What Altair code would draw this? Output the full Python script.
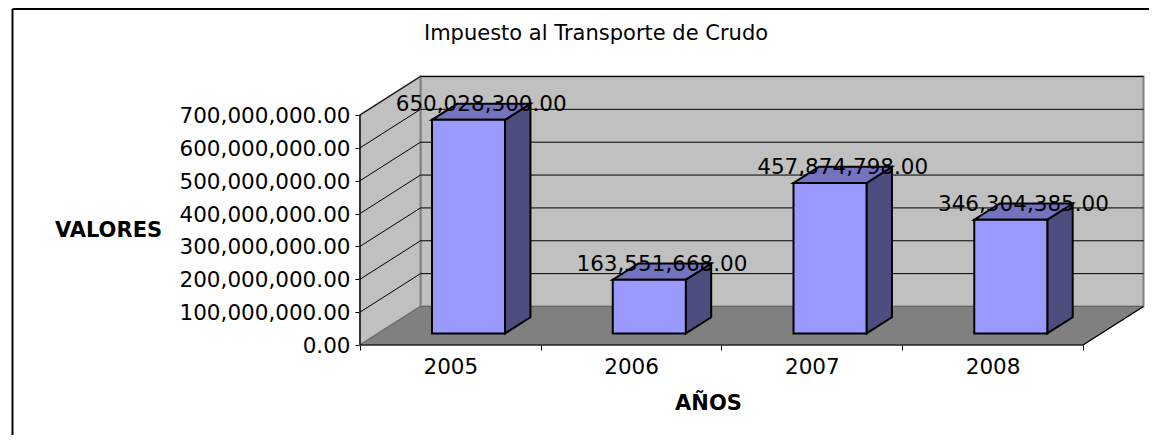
import altair as alt
import pandas as pd

years = ["2005", "2006", "2007", "2008"]
values = [650028300.0, 163551668.0, 457874798.0, 346304385.0]
y_ticks = [0, 100e6, 200e6, 300e6, 400e6, 500e6, 600e6, 700e6]
title_text = "Impuesto al Transporte de Crudo"

FONT = "DejaVu Sans"
V_MAX = 700e6
DEPTH_X = 0.3347      # category units covered by the full floor depth
DEPTH_Y = 117.2e6     # value units covered by the full floor depth
BAR_W = 0.404
BAR_D0, BAR_D1 = 0.30, 0.72
X_END = 4.3375
Y_END = 821.7e6
n = len(years)


def px(cat, depth):
    return cat + depth * DEPTH_X


def py(val, depth):
    return val + depth * DEPTH_Y


xs = alt.Scale(domain=[0, X_END], nice=False, zero=False)
ys = alt.Scale(domain=[0, Y_END], nice=False, zero=False)
X = alt.X("x:Q", scale=xs, axis=None)
Y = alt.Y("y:Q", scale=ys, stack=None, axis=alt.Axis(
    values=y_ticks, format=",.2f", domain=False, tickSize=5, tickColor="black", grid=False,
    labelFont=FONT, labelFontSize=21.5, labelColor="black", labelPadding=5, labelOffset=1.5,
    title="VALORES", titleAngle=0, titleFont=FONT, titleFontSize=21, titleFontWeight="bold",
    titleColor="black", titleX=-252, titleY=155, titleAlign="center", titleBaseline="middle"))
Y2 = alt.Y2("y2:Q")
X2 = alt.X2("x2:Q")

# back wall
back = alt.Chart(pd.DataFrame({"x": [px(0, 1), px(n, 1)], "y": [py(0, 1)] * 2, "y2": [py(V_MAX, 1)] * 2})).mark_area(
    orient="vertical", fill="#C0C0C0", stroke="#808080", strokeWidth=2
).encode(x=X, y=Y, y2=Y2)

# side wall
side = alt.Chart(pd.DataFrame({"x": [px(0, 0), px(0, 1)], "y": [py(0, 0), py(0, 1)], "y2": [py(V_MAX, 0), py(V_MAX, 1)]})).mark_area(
    orient="vertical", fill="#C0C0C0", stroke="#808080", strokeWidth=2
).encode(x=X, y=Y, y2=Y2)

# floor
floor = alt.Chart(pd.DataFrame({"y": [py(0, 0), py(0, 1)], "x": [px(0, 0), px(0, 1)], "x2": [px(n, 0), px(n, 1)]})).mark_area(
    orient="horizontal", fill="#808080", stroke="#666666", strokeWidth=1
).encode(
    y=Y, x=alt.X("x:Q", scale=xs, axis=alt.Axis(
        orient="bottom", values=list(range(n + 1)), labels=False, tickSize=5, tickColor="black", domain=False, title=None, grid=False)),
    x2=X2,
)

# grid lines
grid_rows = []
for v in y_ticks[1:]:
    grid_rows.append({"x": px(0, 0), "x2": px(0, 1), "y": py(v, 0), "y2": py(v, 1)})
    grid_rows.append({"x": px(0, 1), "x2": px(n, 1), "y": py(v, 1), "y2": py(v, 1)})
grid = alt.Chart(pd.DataFrame(grid_rows)).mark_rule(color="#000000", strokeWidth=1).encode(x=X, x2=X2, y=Y, y2=Y2)

# front axis lines and floor's right edge
edge_rows = [
    {"x": 0, "x2": n, "y": 0, "y2": 0},
    {"x": n, "x2": px(n, 1), "y": py(0, 0), "y2": py(0, 1)},
    {"x": 0, "x2": 0, "y": 0, "y2": V_MAX},
]
edges = alt.Chart(pd.DataFrame(edge_rows)).mark_rule(color="#000000", strokeWidth=1.2).encode(x=X, x2=X2, y=Y, y2=Y2)

# year labels axis
year_axis = alt.Chart(pd.DataFrame({"x": [i + 0.5 for i in range(n)], "y": [0] * n, "year": years})).mark_point(opacity=0).encode(
    x=alt.X("x:Q", scale=xs, axis=alt.Axis(
        orient="bottom",
        values=[i + 0.5 for i in range(n)],
        labelExpr="datum.value + 2004.5",
        ticks=False, domain=False, grid=False, labelFont=FONT, labelFontSize=21.5, labelColor="black",
        labelPadding=11,
        title="AÑOS", titleFont=FONT, titleFontSize=21, titleFontWeight="bold", titleColor="black",
        titleX=348, titleY=58, titleAlign="center", titleBaseline="middle")),
    y=Y,
)

# bars: side, top and front faces
layers = [back, side, floor, grid, edges, year_axis]
for i, v in enumerate(values):
    left = i + (1 - BAR_W) / 2
    right = left + BAR_W
    side_face = pd.DataFrame({"x": [px(right, BAR_D0), px(right, BAR_D1)],
                              "y": [py(0, BAR_D0), py(0, BAR_D1)], "y2": [py(v, BAR_D0), py(v, BAR_D1)]})
    top_face = pd.DataFrame({"y": [py(v, BAR_D0), py(v, BAR_D1)],
                             "x": [px(left, BAR_D0), px(left, BAR_D1)], "x2": [px(right, BAR_D0), px(right, BAR_D1)]})
    front_face = pd.DataFrame({"x": [px(left, BAR_D0)], "x2": [px(right, BAR_D0)], "y": [py(0, BAR_D0)], "y2": [py(v, BAR_D0)]})
    layers.append(alt.Chart(side_face).mark_area(orient="vertical", fill="#4D4D80", stroke="black", strokeWidth=2).encode(x=X, y=Y, y2=Y2))
    layers.append(alt.Chart(top_face).mark_area(orient="horizontal", fill="#7373BF", stroke="black", strokeWidth=2).encode(y=Y, x=X, x2=X2))
    layers.append(alt.Chart(front_face).mark_rect(fill="#9999FF", stroke="black", strokeWidth=2).encode(x=X, x2=X2, y=Y, y2=Y2))

# value labels
label_df = pd.DataFrame({
    "x": [px(i + 0.5, (BAR_D0 + BAR_D1) / 2) for i in range(n)],
    "y": [py(v, (BAR_D0 + BAR_D1) / 2) for v in values],
    "text": [f"{v:,.2f}" for v in values],
})
labels = alt.Chart(label_df).mark_text(font=FONT, fontSize=21.5, color="black", dy=-6.5, baseline="middle").encode(x=X, y=Y, text="text:N")
layers.append(labels)

# outer frame: top and left edges only, the others run off the picture
frame_df = pd.DataFrame({"a": [0]})
frame_top = alt.Chart(frame_df).mark_rule(color="black", strokeWidth=2).encode(
    x=alt.value(-347.5), x2=alt.value(789), y=alt.value(-66)
)
frame_left = alt.Chart(frame_df).mark_rule(color="black", strokeWidth=2).encode(
    x=alt.value(-347.5), y=alt.value(-66), y2=alt.value(360)
)
layers += [frame_top, frame_left]

chart = alt.layer(*layers).resolve_axis(x="independent").properties(
    width=784, height=270,
    title=alt.TitleParams(title_text, font=FONT, fontSize=21, fontWeight="normal", color="black",
                          anchor="middle", frame="group", dx=-156, offset=-36),
    padding={"left": 352, "top": 67, "right": 5, "bottom": 90},
    autosize=alt.AutoSizeParams(type="none"),
    background="white",
).configure_view(stroke=None)

chart.save("out.html", embed_options={"renderer": "svg", "actions": False})
